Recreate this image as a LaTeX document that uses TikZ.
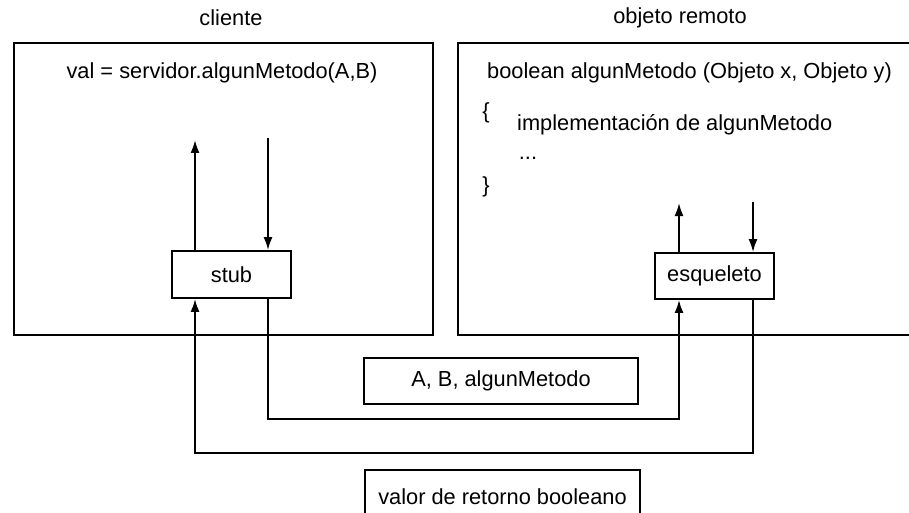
\documentclass[tikz,border=0pt]{standalone}
\usepackage{fontspec}
\setmainfont{Liberation Sans}
\usetikzlibrary{arrows.meta}
\begin{document}
\begin{tikzpicture}[x=1pt,y=-1pt,
  txt/.style={inner sep=0pt, font=\fontsize{21.8}{26}\selectfont},
  boxnode/.style={draw, line width=1.8pt, inner sep=0pt, font=\fontsize{21.8}{26}\selectfont},
  frame/.style={line width=1.9pt},
  arr/.style={line width=1.9pt, -{Latex[length=13pt,width=9pt]}},
  wire/.style={line width=1.9pt}]
\useasboundingbox (0,0) rectangle (909,513);
\clip (0,0) rectangle (909,513);
% frames
\draw[frame] (14,43) rectangle (433,335);
\draw[frame] (458,43) rectangle (920,335);
% titles
\node[txt] (tcli) at (231,18) {cliente};
\node[txt] (tobj) at (680,18) {objeto remoto};
% client code
\node[txt] (call) at (222,73) {val = servidor.algunMetodo(A,B)};
% server code
\node[txt, anchor=west] (sig) at (487,73) {boolean algunMetodo (Objeto x, Objeto y)};
\node[txt] (lbr) at (486,113) {\{};
\node[txt, anchor=west] (impl) at (517,125) {implementación de algunMetodo};
\node[txt, anchor=base] (dots) at (528,160) {...};
\node[txt] (rbr) at (486,187) {\}};
% boxes
\node[boxnode, minimum width=119pt, minimum height=47pt] (stub) at (231.5,274.5) {stub};
\node[boxnode, minimum width=119pt, minimum height=46pt] (esq) at (714.5,276) {esqueleto};
\node[boxnode, minimum width=274pt, minimum height=46pt] (ab) at (501,381) {A, B, algunMetodo};
\node[boxnode, minimum width=275pt, minimum height=54pt] (valor) at (502.5,497) {valor de retorno booleano};
% coordinates
\coordinate (c1) at (195,140);
\coordinate (c2) at (268,138);
\coordinate (c3) at (679,419);
\coordinate (c4) at (753,453);
\coordinate (c5) at (679,203);
\coordinate (c6) at (753,202);
% client arrows
\draw[arr] (c1 |- stub.north) -- (c1);
\draw[arr] (c2) -- (c2 |- stub.north);
% server arrows
\draw[arr] (c5 |- esq.north) -- (c5);
\draw[arr] (c6) -- (c6 |- esq.north);
% request path
\draw[arr] (c2 |- stub.south) |- (c3) -- (c3 |- esq.south);
% response path
\draw[arr] (c4 |- esq.south) |- (c1 |- c4) -- (c1 |- stub.south);
\end{tikzpicture}
\end{document}
